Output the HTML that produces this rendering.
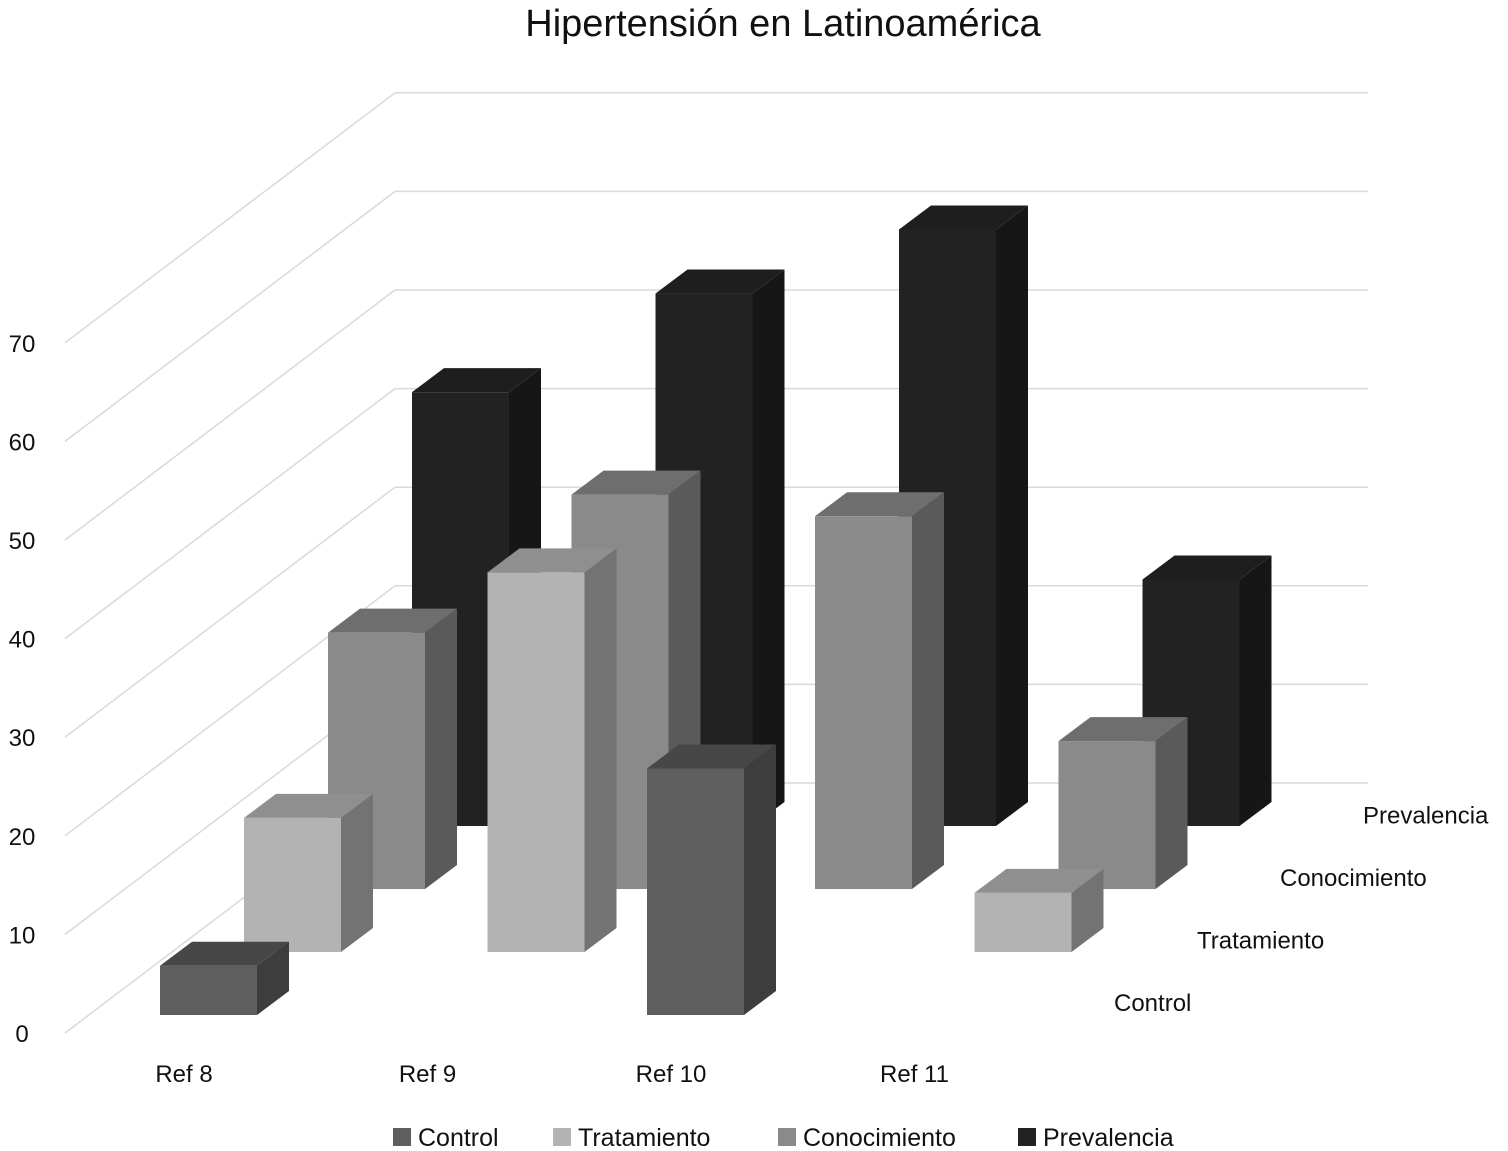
<!DOCTYPE html>
<html><head><meta charset="utf-8"><style>
body{margin:0;background:#fff;}
svg{display:block;font-family:"Liberation Sans",sans-serif;}
</style></head><body>
<svg id="chart" width="1508" height="1151" viewBox="0 0 1508 1151" xmlns="http://www.w3.org/2000/svg">
<text x="783" y="36" font-size="38" text-anchor="middle" fill="#111">Hipertensión en Latinoamérica</text>
<g id="grid"></g>
<g id="bars"></g>
<g id="labels"></g>
<g id="legend"></g>
</svg>
<script>
const categories = ["Ref 8","Ref 9","Ref 10","Ref 11"];
const seriesNames = ["Control","Tratamiento","Conocimiento","Prevalencia"];
const control = [5, 0, 25, 0];
const tratamiento = [13.6, 38.5, 0, 6];
const conocimiento = [26, 40, 37.8, 15];
const prevalencia = [44, 54, 60.5, 25];
const yTicks = [0,10,20,30,40,50,60,70];

const seriesData = [control, tratamiento, conocimiento, prevalencia];
const fronts = ["#5e5e5e","#b3b3b3","#8a8a8a","#222222"];
const tops = ["#474747","#8f8f8f","#6e6e6e","#1e1e1e"];
const sides = ["#3d3d3d","#737373","#5a5a5a","#161616"];
const NS = "http://www.w3.org/2000/svg";
const pxPer = 9.86;
function xPos(ci, si){ return 160 + ci*243.5 + si*84; }
function baseY(si){ return 1015 - si*63; }
function hPx(v){ return v*pxPer; }
function mk(tag, attrs, parent){ const e=document.createElementNS(NS,tag); for(const k in attrs) e.setAttribute(k,attrs[k]); parent.appendChild(e); return e; }

const grid=document.getElementById('grid');
yTicks.forEach(t=>{
  const yb = 783 - t*pxPer;
  const l1=mk('line',{x1:395,y1:yb,x2:1368,y2:yb,stroke:'#d9d9d9','stroke-width':1.5},grid);
  
  
  const l2=mk('line',{x1:395,y1:yb,x2:65,y2:yb+250,stroke:'#d9d9d9','stroke-width':1.5},grid);
  
  
  const tx=mk('text',{x:22,y:yb+250+9,'font-size':24,'text-anchor':'middle',fill:'#111'},grid);
  tx.textContent=t;
  
  
});

const bars=document.getElementById('bars');
const w=97, dx=32, dy=24;
for(let si=3; si>=0; si--){
  for(let ci=0; ci<categories.length; ci++){
    const v=seriesData[si][ci];
    if(!v) continue;
    const x=xPos(ci,si), b=baseY(si), t=b-hPx(v);
    const g=mk('g',{},bars);
    
    
    mk('polygon',{points:`${x+w},${t} ${x+w+dx},${t-dy} ${x+w+dx},${b-dy} ${x+w},${b}`,fill:sides[si]},g);
    mk('polygon',{points:`${x},${t} ${x+w},${t} ${x+w+dx},${t-dy} ${x+dx},${t-dy}`,fill:tops[si]},g);
    mk('rect',{x:x,y:t,width:w,height:b-t,fill:fronts[si]},g);
  }
}

const labels=document.getElementById('labels');
categories.forEach((c,ci)=>{
  const tx=mk('text',{x:184+ci*243.5,y:1082,'font-size':24,'text-anchor':'middle',fill:'#111'},labels);
  tx.textContent=c;
  
  
});
seriesNames.forEach((s,si)=>{
  const tx=mk('text',{x:1114+si*83,y:1011-si*62.5,'font-size':24,fill:'#111'},labels);
  tx.textContent=s;
  
  
});

const legend=document.getElementById('legend');
const lx=[393,553,778,1018];
seriesNames.forEach((s,si)=>{
  const g=mk('g',{},legend);
  
  
  mk('rect',{x:lx[si],y:1128,width:18,height:18,fill:fronts[si]},g);
  const tx=mk('text',{x:lx[si]+25,y:1146,'font-size':25,fill:'#111'},g);
  tx.textContent=s;
});
</script>
</body></html>
